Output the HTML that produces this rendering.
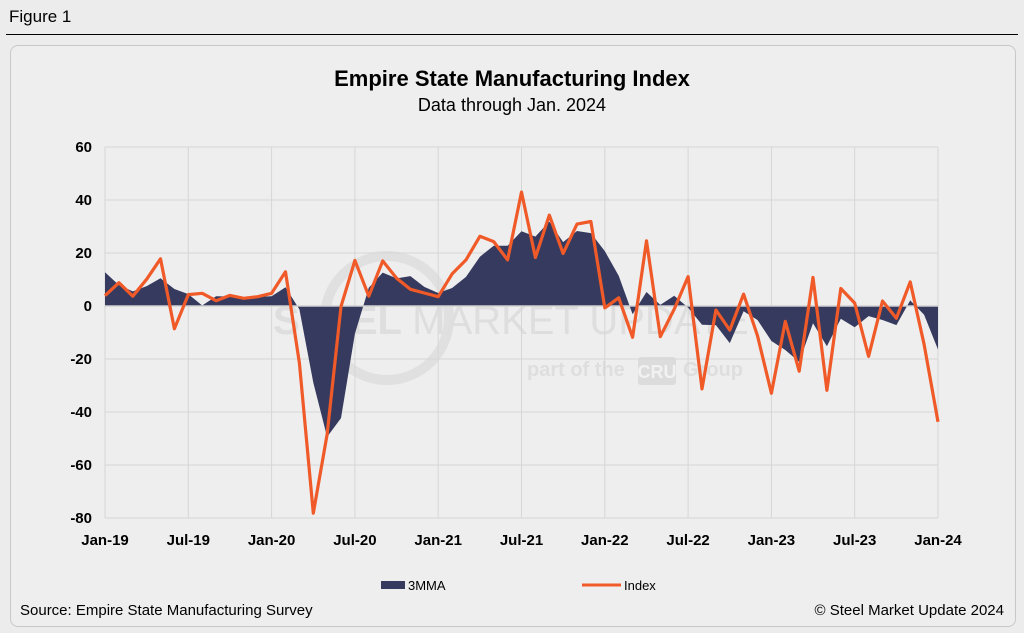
<!DOCTYPE html>
<html><head><meta charset="utf-8"><style>
body{margin:0;width:1024px;height:633px;background:#ececec;font-family:"Liberation Sans",Arial,sans-serif;overflow:hidden;position:relative}
</style></head><body>
<div style="position:absolute;left:9px;top:7px;font-size:17px;color:#000">Figure 1</div>
<div style="position:absolute;left:6px;top:34px;width:1012px;height:1px;background:#000"></div>
<div style="position:absolute;left:10px;top:45px;width:1004px;height:580px;border:1px solid #c8c8c8;border-radius:8px;background:#eeeeee"></div>
<svg id="chart" width="1024" height="633" style="position:absolute;left:0;top:0" font-family="Liberation Sans, Arial, sans-serif">
<text x="512" y="86" text-anchor="middle" font-size="22" font-weight="bold">Empire State Manufacturing Index</text>
<text x="512" y="111" text-anchor="middle" font-size="18">Data through Jan. 2024</text>
<g fill="#dedede" font-weight="bold">
<circle cx="387" cy="318" r="62" fill="none" stroke="#e0e0e0" stroke-width="10"/>
<text x="273" y="334" font-size="40">STEEL <tspan font-weight="normal">MARKET UPDATE</tspan></text>
<text x="527" y="376" font-size="20">part of the</text>
<rect x="638" y="357" width="38" height="28" rx="3" fill="#dcdcdc"/>
<text x="657" y="378" font-size="18" fill="#f2f2f2" text-anchor="middle">CRU</text>
<text x="683" y="376" font-size="20">Group</text>
</g>
<g id="grid"></g><g id="marks"></g><g id="axes"></g>
<g>
<rect x="381" y="581" width="24" height="8" fill="#363a5e"/>
<text x="408" y="590" font-size="13">3MMA</text>
<line x1="582" y1="585" x2="621" y2="585" stroke="#f05a28" stroke-width="3"/>
<text x="624" y="590" font-size="13">Index</text>
</g>
<text x="20" y="615" font-size="15">Source: Empire State Manufacturing Survey</text>
<text x="1004" y="615" text-anchor="end" font-size="15">© Steel Market Update 2024</text>
</svg>
<script>
const xTickLabels=["Jan-19","Jul-19","Jan-20","Jul-20","Jan-21","Jul-21","Jan-22","Jul-22","Jan-23","Jul-23","Jan-24"];
const yTicks=[60,40,20,0,-20,-40,-60,-80];
const indexValues=[3.9,8.8,3.7,10.1,17.8,-8.6,4.3,4.8,2.0,4.0,2.9,3.5,
4.8,12.9,-21.5,-78.2,-48.5,-0.2,17.2,3.7,17.0,10.5,6.3,4.9,
3.5,12.1,17.4,26.3,24.3,17.4,43.0,18.3,34.3,19.8,30.9,31.9,
-0.7,3.1,-11.8,24.6,-11.6,-1.2,11.1,-31.3,-1.5,-9.1,4.5,-11.2,
-32.9,-5.8,-24.6,10.8,-31.8,6.6,1.1,-19.0,1.9,-4.6,9.1,-14.5,
-43.7];
const mmaValues=[12.7,7.9,5.5,7.5,10.5,6.4,4.5,0.2,3.7,3.6,3.0,3.5,
3.7,7.1,-1.3,-28.9,-49.4,-42.3,-10.5,6.9,12.6,10.4,11.3,7.2,
4.9,6.8,11.0,18.6,22.7,22.7,28.2,26.2,31.9,24.1,28.3,27.5,
20.7,11.4,-3.1,5.3,0.4,3.9,-0.6,-7.1,-7.2,-14.0,-2.0,-5.3,
-13.2,-16.6,-21.1,-6.5,-15.2,-4.8,-8.0,-3.8,-5.3,-7.2,2.1,-3.3,
-16.4];
const X0=105,X1=938,Y0=147,Y1=518,YMAX=60,YMIN=-80;
const nMonths=indexValues.length;
function xs(i){return X0+(X1-X0)*i/(nMonths-1);}
function ys(v){return Y0+(YMAX-v)/(YMAX-YMIN)*(Y1-Y0);}
const NS="http://www.w3.org/2000/svg";
function mk(tag,attrs,parent){const e=document.createElementNS(NS,tag);for(const k in attrs)e.setAttribute(k,attrs[k]);parent.appendChild(e);return e;}
const grid=document.getElementById('grid'),marks=document.getElementById('marks'),axes=document.getElementById('axes');
yTicks.forEach(v=>{
  const l=mk('line',{x1:X0,x2:X1,y1:ys(v),y2:ys(v),stroke:'#d6d6d6','stroke-width':1},grid);
  
  
  const t=mk('text',{x:X0-13,y:ys(v)+5,'text-anchor':'end','font-size':15,'font-weight':'bold'},axes);
  t.textContent=v;
  
  
});
xTickLabels.forEach((s,k)=>{
  const x=xs(k*6);
  const l=mk('line',{x1:x,x2:x,y1:Y0,y2:Y1,stroke:'#d6d6d6','stroke-width':1},grid);
  
  
  const t=mk('text',{x:x,y:Y1+27,'text-anchor':'middle','font-size':15,'font-weight':'bold'},axes);
  t.textContent=s;
  
  
});
let d='M'+xs(0)+','+ys(0);
mmaValues.forEach((v,i)=>{d+=' L'+xs(i).toFixed(1)+','+ys(v).toFixed(1);});
d+=' L'+xs(nMonths-1)+','+ys(0)+' Z';
const area=mk('path',{d:d,fill:'#363a5e'},marks);


const zl=mk('line',{x1:X0,x2:X1,y1:ys(0),y2:ys(0),stroke:'#d0d0d0','stroke-width':1.5},marks);


const pts=indexValues.map((v,i)=>xs(i).toFixed(1)+','+ys(v).toFixed(1)).join(' ');
const line=mk('polyline',{points:pts,fill:'none',stroke:'#f05a28','stroke-width':3.2,'stroke-linejoin':'round'},marks);


</script>
</body></html>
